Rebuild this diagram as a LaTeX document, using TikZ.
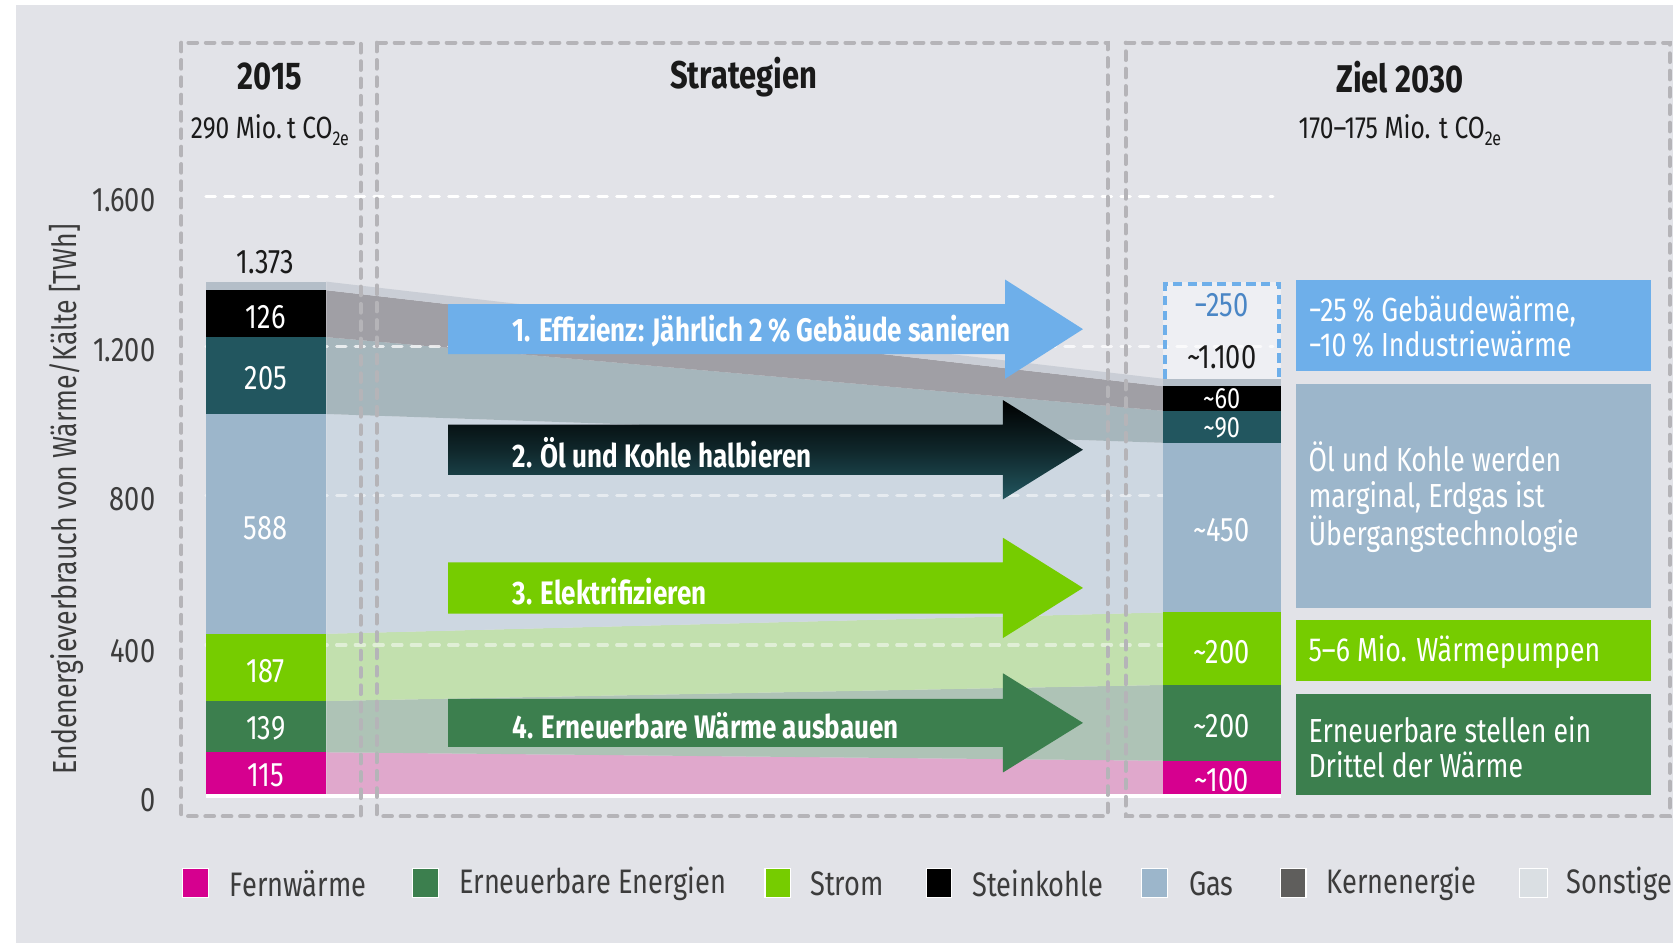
\documentclass[tikz,border=0pt]{standalone}
\usepackage{fontspec}
\setmainfont[FakeStretch=0.8]{Fira Sans}
\usetikzlibrary{positioning, calc, arrows.meta}

\definecolor{bgc}{HTML}{E2E3E8}
\definecolor{framec}{HTML}{B5B4B8}
\definecolor{textc}{HTML}{1A1A1A}
\definecolor{fernw}{HTML}{D6008F}
\definecolor{erneu}{HTML}{3C7F4E}
\definecolor{strom}{HTML}{76CC00}
\definecolor{gasc}{HTML}{9CB6CB}
\definecolor{oelc}{HTML}{22565F}
\definecolor{kernc}{HTML}{5F5E5C}
\definecolor{sonstc}{HTML}{DADFE3}
\definecolor{topc}{HTML}{B4BEC8}
\definecolor{effc}{HTML}{6EAFEA}
\definecolor{boxc}{HTML}{EEEFF3}
\definecolor{minusc}{HTML}{4A86C5}
\definecolor{fernflow}{HTML}{E0A8CC}
\definecolor{erneuflow}{HTML}{AEC3B6}
\definecolor{stromflow}{HTML}{C2E0AE}
\definecolor{gasflow}{HTML}{CDD7E1}
\definecolor{oelflow}{HTML}{A6B6BC}
\definecolor{kohleflow}{HTML}{A09FA5}
\definecolor{sonstflow}{HTML}{CACED6}

\tikzset{
  frame/.style={draw=framec, line width=3pt, dash pattern=on 6.5pt off 6.5pt, line cap=round},
  gridline/.style={draw=white, line width=2.4pt, dash pattern=on 7pt off 7pt, line cap=round},
  title/.style={font=\fontsize{29}{32}\selectfont\bfseries, text=textc},
  subtitle/.style={font=\fontsize{23}{26}\selectfont, text=textc},
  tick/.style={font=\fontsize{25.5}{28}\selectfont, text=textc!85, anchor=east},
  barlabel/.style={font=\fontsize{25.5}{28}\selectfont, text=white},
  smalllabel/.style={font=\fontsize{22}{24}\selectfont, text=white, inner sep=1pt},
  arrowtext/.style={font=\fontsize{24.4}{28}\selectfont\bfseries, text=white, anchor=west},
  infotext/.style={font=\fontsize{25}{26.4}\selectfont, text=white, anchor=west, align=left},
  legtext/.style={font=\fontsize{25.5}{28}\selectfont, text=textc!85, anchor=west},
  legbox/.style={draw=white, line width=0.8pt}
}

\begin{document}
\begin{tikzpicture}[x=0.8pt, y=-0.8pt]
\useasboundingbox (0,0) rectangle (1568,884);
\fill[white] (0,0) rectangle (1568,884);
\fill[bgc] (15,5) rectangle (1568,884);

% flows between 2015 and 2030
\fill[fernflow] (306,705) -- (1090,713) -- (1090,745) -- (306,745) -- cycle;
\fill[erneuflow] (306,657) -- (1090,642) -- (1090,713) -- (306,705) -- cycle;
\fill[stromflow] (306,594) -- (1090,574) -- (1090,642) -- (306,657) -- cycle;
\fill[gasflow] (306,388) -- (1090,415) -- (1090,574) -- (306,594) -- cycle;
\fill[oelflow] (306,316) -- (1090,385) -- (1090,415) -- (306,388) -- cycle;
\fill[kohleflow] (306,272) -- (1090,362) -- (1090,385) -- (306,316) -- cycle;
\fill[sonstflow] (306,264) -- (1090,355) -- (1090,362) -- (306,272) -- cycle;
\fill[white] (193,744) rectangle (1201,748);

% target box
\fill[boxc] (1090,264) rectangle (1201,355);

% grid
\draw[gridline] (193,184) -- (1193,184);
\draw[gridline, opacity=0.75] (193,324.5) -- (1193,324.5);
\draw[gridline, opacity=0.5] (193,464.5) -- (1193,464.5);
\draw[gridline, opacity=0.5] (193,604.5) -- (1193,604.5);

% dashed frames
\draw[frame] (170,40) rectangle (338,765);
\draw[frame] (353,40) rectangle (1038,765);
\draw[frame] (1055,40) -- (1565,40) -- (1565,765) -- (1055,765) -- cycle;

% headings
\node[title] (h2015) at (253,72) {2015};
\node[subtitle] (e2015) at (253,122) {290 Mio.\,t CO\raisebox{-0.45ex}{\fontsize{15}{15}\selectfont 2e}};
\node[title] (hstrat) at (697,72) {Strategien};
\node[title] (h2030) at (1312,72) {Ziel 2030};
\node[subtitle] (e2030) at (1312,122) {170–175 Mio. t CO\raisebox{-0.45ex}{\fontsize{15}{15}\selectfont 2e}};

% axis
\node[tick] (t1600) at (150,188) {1.600};
\node[tick] (t1200) at (150,328) {1.200};
\node[tick] (t800) at (150,468) {800};
\node[tick] (t400) at (150,610) {400};
\node[tick] (t0) at (150,750) {0};
\node[font=\fontsize{25}{28}\selectfont, text=textc!85, rotate=90] (ylab) at (62,468) {Endenergieverbrauch von Wärme/Kälte [TWh]};

% bar 2015
\fill[fernw] (193,705) rectangle (306,744);
\fill[erneu] (193,657) rectangle (306,705);
\fill[strom] (193,594) rectangle (306,657);
\fill[gasc] (193,388) rectangle (306,594);
\fill[oelc] (193,316) rectangle (306,388);
\fill[black] (193,272) rectangle (306,316);
\fill[topc] (193,264) rectangle (306,272);
\node[font=\fontsize{25.5}{28}\selectfont, text=textc] (sum2015) at (249,246) {1.373};
\node[barlabel] (v126) at (249,297) {126};
\node[barlabel] (v205) at (249,354) {205};
\node[barlabel] (v588) at (249,495) {588};
\node[barlabel] (v187) at (249,629) {187};
\node[barlabel] (v139) at (249,683) {139};
\node[barlabel] (v115) at (249,727) {115};

% bar 2030
\fill[fernw] (1090,713) rectangle (1201,744);
\fill[erneu] (1090,642) rectangle (1201,713);
\fill[strom] (1090,574) rectangle (1201,642);
\fill[gasc] (1090,415) rectangle (1201,574);
\fill[oelc] (1090,385) rectangle (1201,415);
\fill[black] (1090,362) rectangle (1201,385);
\fill[topc] (1090,355) rectangle (1201,362);
\draw[effc, line width=3pt, dash pattern=on 7pt off 4pt] (1092,355) -- (1092,266) -- (1199,266) -- (1199,355);
\node[font=\fontsize{25.5}{28}\selectfont, text=minusc] (m250) at (1145,286) {−250};
\node[font=\fontsize{25.5}{28}\selectfont, text=textc] (sum2030) at (1145,335) {\textasciitilde 1.100};
\node[smalllabel] (v60) at (1145,374) {\textasciitilde 60};
\node[smalllabel] (v90) at (1145,401) {\textasciitilde 90};
\node[barlabel] (v450) at (1145,497) {\textasciitilde 450};
\node[barlabel] (v200a) at (1145,611) {\textasciitilde 200};
\node[barlabel] (v200b) at (1145,681) {\textasciitilde 200};
\node[barlabel] (v100) at (1145,731) {\textasciitilde 100};

% strategy arrows
\fill[effc] (420,285) -- (942,285) -- (942,262) -- (1015,308.5) -- (942,355) -- (942,332) -- (420,332) -- cycle;
\node[arrowtext] (s1) at (476,310) {1. Effizienz: Jährlich 2\,\% Gebäude sanieren};
\shade[top color=black, bottom color=oelc, middle color=oelc!45!black] (420,398) -- (940,398) -- (940,375) -- (1015,421.5) -- (940,468) -- (940,445) -- (420,445) -- cycle;
\node[arrowtext] (s2) at (476,424) {2. Öl und Kohle halbieren};
\fill[strom] (420,527) -- (940,527) -- (940,504) -- (1015,551) -- (940,598) -- (940,575) -- (420,575) -- cycle;
\node[arrowtext] (s3) at (476,554) {3. Elektrifizieren};
\fill[erneu] (420,655) -- (940,655) -- (940,631) -- (1015,677.5) -- (940,724) -- (940,700) -- (420,700) -- cycle;
\node[arrowtext] (s4) at (476,680) {4. Erneuerbare Wärme ausbauen};

% info boxes
\fill[effc] (1215,262) rectangle (1547,348);
\node[infotext] (i1) at (1222,306) {−25\,\% Gebäudewärme,\\−10\,\% Industriewärme};
\fill[gasc] (1215,360) rectangle (1547,570);
\node[infotext] (i2) at (1222,466) {Öl und Kohle werden\\marginal, Erdgas ist\\Übergangstechnologie};
\fill[strom] (1215,581) rectangle (1547,638);
\node[infotext] (i3) at (1222,611) {5–6 Mio. Wärmepumpen};
\fill[erneu] (1215,650) rectangle (1547,745);
\node[infotext] (i4) at (1222,700) {Erneuerbare stellen ein\\Drittel der Wärme};

% legend
\filldraw[legbox, fill=fernw] (171,814) rectangle (195,841);
\node[legtext] (l1) at (211,828) {Fernwärme};
\filldraw[legbox, fill=erneu] (387,814) rectangle (411,841);
\node[legtext] (l2) at (426,828) {Erneuerbare Energien};
\filldraw[legbox, fill=strom] (717,814) rectangle (741,841);
\node[legtext] (l3) at (755,828) {Strom};
\filldraw[legbox, fill=black] (868,814) rectangle (892,841);
\node[legtext] (l4) at (907,828) {Steinkohle};
\filldraw[legbox, fill=gasc] (1070,814) rectangle (1094,841);
\node[legtext] (l5) at (1110,828) {Gas};
\filldraw[legbox, fill=kernc] (1200,814) rectangle (1224,841);
\node[legtext] (l6) at (1239,828) {Kernenergie};
\filldraw[legbox, fill=sonstc] (1424,814) rectangle (1450,841);
\node[legtext] (l7) at (1464,828) {Sonstige};
\end{tikzpicture}
\end{document}
